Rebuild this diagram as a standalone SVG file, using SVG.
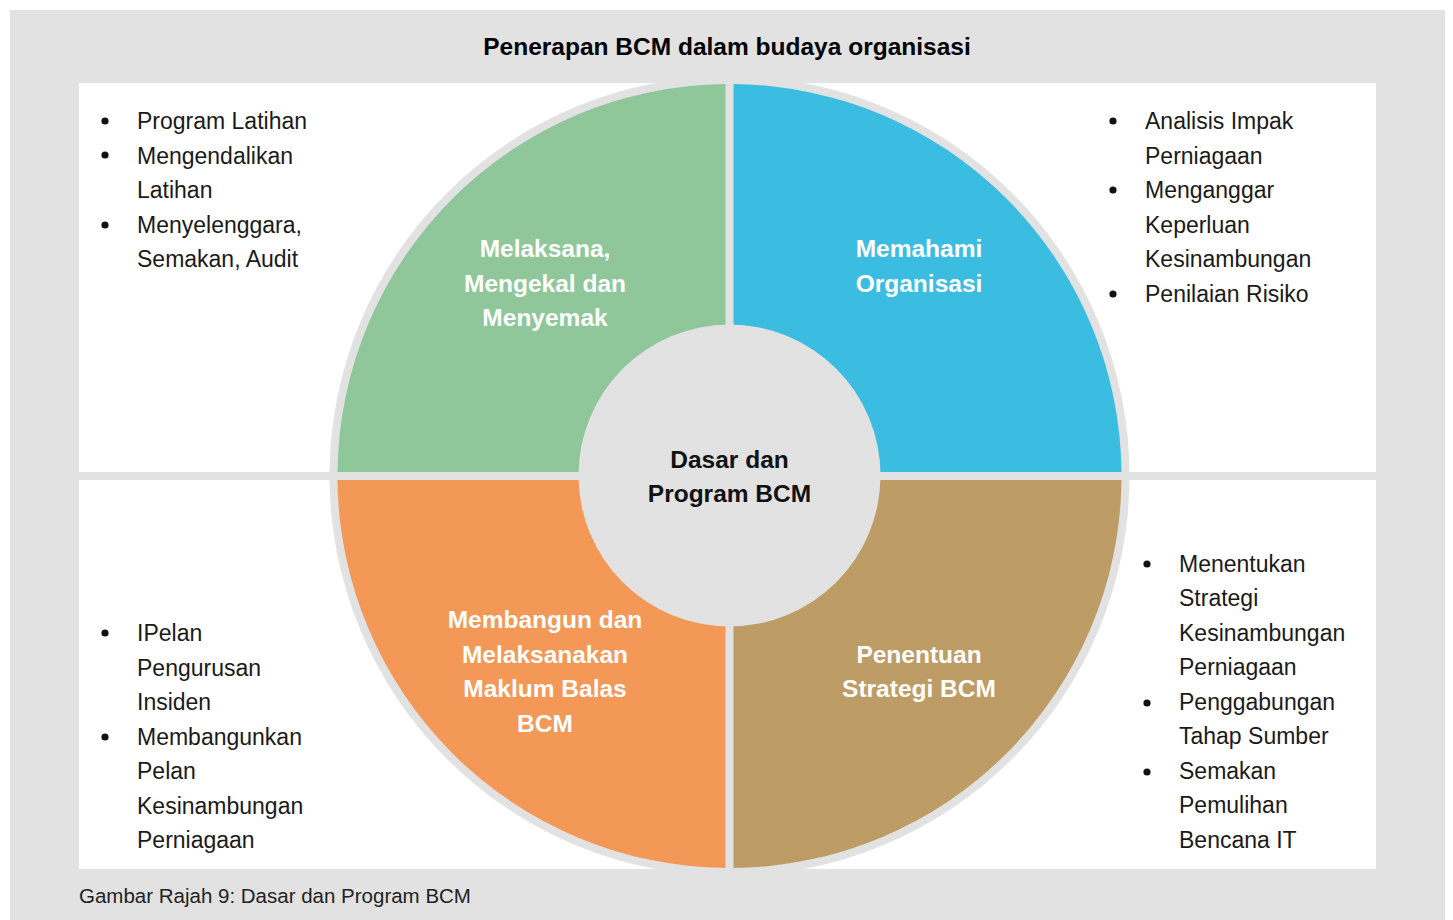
<svg xmlns="http://www.w3.org/2000/svg" width="1453" height="920" viewBox="0 0 1453 920">
<style>
.t{font-family:"Liberation Sans",Arial,sans-serif;font-weight:bold;font-size:24.5px;fill:#000;text-anchor:middle}
.q{font-family:"Liberation Sans",Arial,sans-serif;font-weight:bold;font-size:24.5px;fill:#fff;text-anchor:middle}
.c{font-family:"Liberation Sans",Arial,sans-serif;font-weight:bold;font-size:24.5px;fill:#111;text-anchor:middle}
.b{font-family:"Liberation Sans",Arial,sans-serif;font-size:23px;fill:#1a1a1a}
.cap{font-family:"Liberation Sans",Arial,sans-serif;font-size:20.5px;fill:#222}
.dot{fill:#111}
</style>
<rect x="0" y="0" width="1453" height="920" fill="#fff"/>
<rect x="10" y="10" width="1435" height="910" fill="#e2e2e2"/>
<rect x="79" y="83" width="1297" height="389" fill="#fff"/>
<rect x="79" y="480" width="1297" height="389" fill="#fff"/>
<text class="t" x="727" y="55">Penerapan BCM dalam budaya organisasi</text>
<circle cx="729.5" cy="476" r="400" fill="#e2e2e2"/>
<rect x="79" y="472" width="1297" height="8" fill="#e2e2e2"/>
<g id="q-green">
<path d="M725.5,472 L725.5,84.02 A392,392 0 0 0 337.52,472 Z" fill="#8fc79a"/>
<text class="q" x="545" y="257">Melaksana,</text>
<text class="q" x="545" y="291.5">Mengekal dan</text>
<text class="q" x="545" y="326">Menyemak</text>
</g>
<g id="q-blue">
<path d="M733.5,472 L733.5,84.02 A392,392 0 0 1 1121.48,472 Z" fill="#3bbde2"/>
<text class="q" x="919" y="257">Memahami</text>
<text class="q" x="919" y="291.5">Organisasi</text>
</g>
<g id="q-orange">
<path d="M725.5,480 L725.5,867.98 A392,392 0 0 1 337.52,480 Z" fill="#f39857"/>
<text class="q" x="545" y="628">Membangun dan</text>
<text class="q" x="545" y="662.5">Melaksanakan</text>
<text class="q" x="545" y="697">Maklum Balas</text>
<text class="q" x="545" y="731.5">BCM</text>
</g>
<g id="q-tan">
<path d="M733.5,480 L1121.48,480 A392,392 0 0 1 733.5,867.98 Z" fill="#bd9d65"/>
<text class="q" x="919" y="662.5">Penentuan</text>
<text class="q" x="919" y="697">Strategi BCM</text>
</g>
<g id="center">
<circle cx="729.5" cy="475.5" r="151" fill="#e2e2e2"/>
<text class="c" x="729.5" y="468">Dasar dan</text>
<text class="c" x="729.5" y="502">Program BCM</text>
</g>
<g id="list-top-left">
<circle class="dot" cx="105" cy="121" r="3.6"/>
<circle class="dot" cx="105" cy="155" r="3.6"/>
<circle class="dot" cx="105" cy="225" r="3.6"/>
<text class="b" x="137" y="129">Program Latihan</text>
<text class="b" x="137" y="163.5">Mengendalikan</text>
<text class="b" x="137" y="198">Latihan</text>
<text class="b" x="137" y="232.5">Menyelenggara,</text>
<text class="b" x="137" y="267">Semakan, Audit</text>
</g>
<g id="list-top-right">
<circle class="dot" cx="1113" cy="121" r="3.6"/>
<circle class="dot" cx="1113" cy="190" r="3.6"/>
<circle class="dot" cx="1113" cy="294" r="3.6"/>
<text class="b" x="1145" y="129">Analisis Impak</text>
<text class="b" x="1145" y="163.5">Perniagaan</text>
<text class="b" x="1145" y="198">Menganggar</text>
<text class="b" x="1145" y="232.5">Keperluan</text>
<text class="b" x="1145" y="267">Kesinambungan</text>
<text class="b" x="1145" y="301.5">Penilaian Risiko</text>
</g>
<g id="list-bottom-left">
<circle class="dot" cx="105" cy="633" r="3.6"/>
<circle class="dot" cx="105" cy="737" r="3.6"/>
<text class="b" x="137" y="641">IPelan</text>
<text class="b" x="137" y="675.5">Pengurusan</text>
<text class="b" x="137" y="710">Insiden</text>
<text class="b" x="137" y="744.5">Membangunkan</text>
<text class="b" x="137" y="779">Pelan</text>
<text class="b" x="137" y="813.5">Kesinambungan</text>
<text class="b" x="137" y="848">Perniagaan</text>
</g>
<g id="list-bottom-right">
<circle class="dot" cx="1147" cy="564" r="3.6"/>
<circle class="dot" cx="1147" cy="703" r="3.6"/>
<circle class="dot" cx="1147" cy="772" r="3.6"/>
<text class="b" x="1179" y="571.5">Menentukan</text>
<text class="b" x="1179" y="606">Strategi</text>
<text class="b" x="1179" y="640.5">Kesinambungan</text>
<text class="b" x="1179" y="675">Perniagaan</text>
<text class="b" x="1179" y="709.5">Penggabungan</text>
<text class="b" x="1179" y="744">Tahap Sumber</text>
<text class="b" x="1179" y="778.5">Semakan</text>
<text class="b" x="1179" y="813">Pemulihan</text>
<text class="b" x="1179" y="847.5">Bencana IT</text>
</g>
<text class="cap" x="79" y="903">Gambar Rajah 9: Dasar dan Program BCM</text>
</svg>
